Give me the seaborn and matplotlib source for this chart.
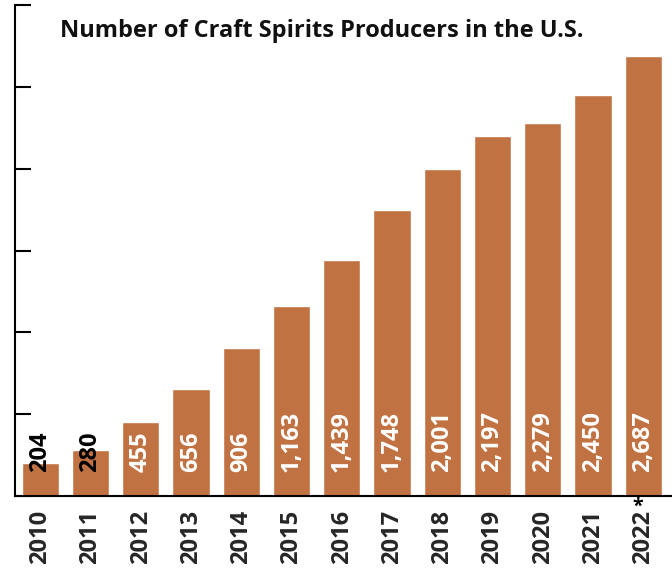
import matplotlib
matplotlib.use("Agg")
import matplotlib.pyplot as plt
import seaborn as sns
import pandas as pd

years = ["2010", "2011", "2012", "2013", "2014", "2015", "2016",
         "2017", "2018", "2019", "2020", "2021", "2022"]
footnote_mark = "*"
producers = [204, 280, 455, 656, 906, 1163, 1439, 1748, 2001, 2197, 2279, 2450, 2687]
value_labels = ["204", "280", "455", "656", "906", "1,163", "1,439", "1,748",
                "2,001", "2,197", "2,279", "2,450", "2,687"]
title = "Number of Craft Spirits Producers in the U.S."

sns.set_style("white")
plt.rcParams["font.family"] = ["Open Sans", "DejaVu Sans"]

bar_color = "#C17242"
df = pd.DataFrame({"year": years, "producers": producers})

fig = plt.figure(figsize=(6.72, 5.71), dpi=100)
ax = fig.add_axes([15 / 672, 75 / 571, 657 / 672, 491 / 571])

sns.barplot(data=df, x="year", y="producers", order=years, color=bar_color,
            saturation=1, width=0.74, ax=ax)

ax.set_xlim(-0.5, 12.57)
ax.set_ylim(0, 3000)
ax.set_yticks([0, 500, 1000, 1500, 2000, 2500, 3000])
ax.set_yticklabels([])
ax.set_xlabel("")
ax.set_ylabel("")

for s in ["top", "right"]:
    ax.spines[s].set_visible(False)
for s in ["left", "bottom"]:
    ax.spines[s].set_color("black")
    ax.spines[s].set_linewidth(1.5)

ax.tick_params(axis="y", direction="in", length=11.5, width=1.5, color="black", left=True)
ax.tick_params(axis="x", length=0, pad=10)
for lab in ax.get_xticklabels():
    lab.set_rotation(90)
    lab.set_fontsize(17)
    lab.set_fontweight("bold")
    lab.set_va("top")
    lab.set_ha("center")

# footnote asterisk on the last year
ax.annotate(footnote_mark, xy=(len(years) - 1, 0), xytext=(-4, -11.5),
            textcoords="offset points", ha="center", va="baseline",
            fontsize=14, fontweight="bold", color="black", annotation_clip=False)

for i, (v, t) in enumerate(zip(producers, value_labels)):
    col = "black" if i < 2 else "white"
    ax.annotate(t, xy=(i, 0), xytext=(0, 17.5), textcoords="offset points",
                rotation=90, ha="center", va="bottom", fontsize=17,
                fontweight="bold", color=col)

fig.text(321.5 / 672, 1 - 37 / 571, title, ha="center", va="baseline",
         fontsize=17, fontweight="bold", color="#111111")

fig.savefig("out.png", dpi=100, facecolor="white")
